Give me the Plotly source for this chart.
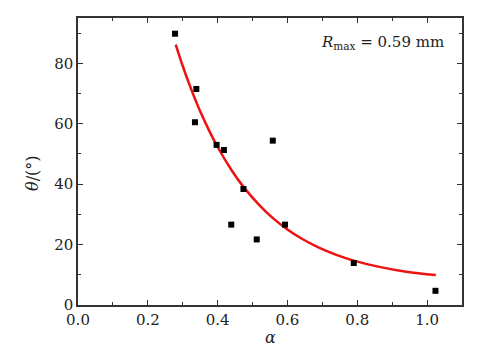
import plotly.graph_objects as go

# measured points
alpha_pts = [0.278, 0.339, 0.335, 0.397, 0.418, 0.558, 0.474, 0.439, 0.512, 0.593, 0.790, 1.024]
theta_pts = [89.8, 71.5, 60.5, 53.0, 51.3, 54.4, 38.4, 26.6, 21.7, 26.6, 13.9, 4.7]

# fitted curve
alpha_fit = [0.28, 0.30, 0.325, 0.35, 0.375, 0.40, 0.44, 0.474, 0.52, 0.56, 0.60,
             0.64, 0.69, 0.74, 0.79, 0.86, 0.94, 1.025]
theta_fit = [86.2, 79.1, 71.2, 64.1, 57.9, 52.3, 44.6, 39.1, 33.0, 28.6, 25.0,
             22.0, 19.0, 16.6, 14.7, 12.7, 11.0, 9.9]

x_ticks = [0.0, 0.2, 0.4, 0.6, 0.8, 1.0]
x_labels = ["0.0", "0.2", "0.4", "0.6", "0.8", "1.0"]
y_ticks = [0, 20, 40, 60, 80]
y_labels = ["0", "20", "40", "60", "80"]

FONT = "DejaVu Serif, Liberation Serif, serif"

fig = go.Figure()
fig.add_trace(go.Scatter(x=alpha_fit, y=theta_fit, mode="lines",
                         line=dict(color="#ee1111", width=2.5, shape="spline"),
                         showlegend=False, hoverinfo="skip"))
fig.add_trace(go.Scatter(x=alpha_pts, y=theta_pts, mode="markers",
                         marker=dict(symbol="square", size=6, color="black"),
                         showlegend=False))

axis_common = dict(showgrid=False, zeroline=False, showline=True, linecolor="#333333",
                   linewidth=1.5, mirror="ticks", ticks="inside", ticklen=5,
                   tickwidth=1, tickcolor="#333333",
                   tickfont=dict(family=FONT, size=15, color="#222222"))

fig.update_xaxes(range=[0, 1.1], tickvals=x_ticks, ticktext=x_labels,
                 minor=dict(dtick=0.1, ticks="inside", ticklen=3, tickcolor="#333333", showgrid=False),
                 **axis_common)
fig.update_yaxes(range=[0, 95], tickvals=y_ticks, ticktext=y_labels,
                 minor=dict(dtick=10, ticks="inside", ticklen=3, tickcolor="#333333", showgrid=False),
                 **axis_common)

fig.add_annotation(text="<i>α</i>", x=0.55, xref="x", y=(305.5 - 338) / (305.5 - 18), yref="paper",
                   yanchor="middle", showarrow=False,
                   font=dict(family=FONT, size=16, color="#222222"))
fig.add_annotation(text="<i>θ</i>/(°)", x=(33 - 78) / (485 - 78 - 23), xref="paper", y=0.46, yref="paper",
                   showarrow=False, textangle=-90, xanchor="center", yanchor="middle",
                   font=dict(family=FONT, size=16, color="#222222"))
fig.add_annotation(text="<i>R</i><sub>max</sub> = 0.59 mm", x=(446 - 78) / (485 - 78 - 23), xref="paper",
                   y=(305.5 - 43) / (305.5 - 18), yref="paper",
                   xanchor="right", yanchor="middle", showarrow=False,
                   font=dict(family=FONT, size=15, color="#222222"))

fig.update_layout(width=485, height=351, margin=dict(l=78, r=23, t=18, b=46),
                  plot_bgcolor="white", paper_bgcolor="white")

fig.write_html("out.html")
